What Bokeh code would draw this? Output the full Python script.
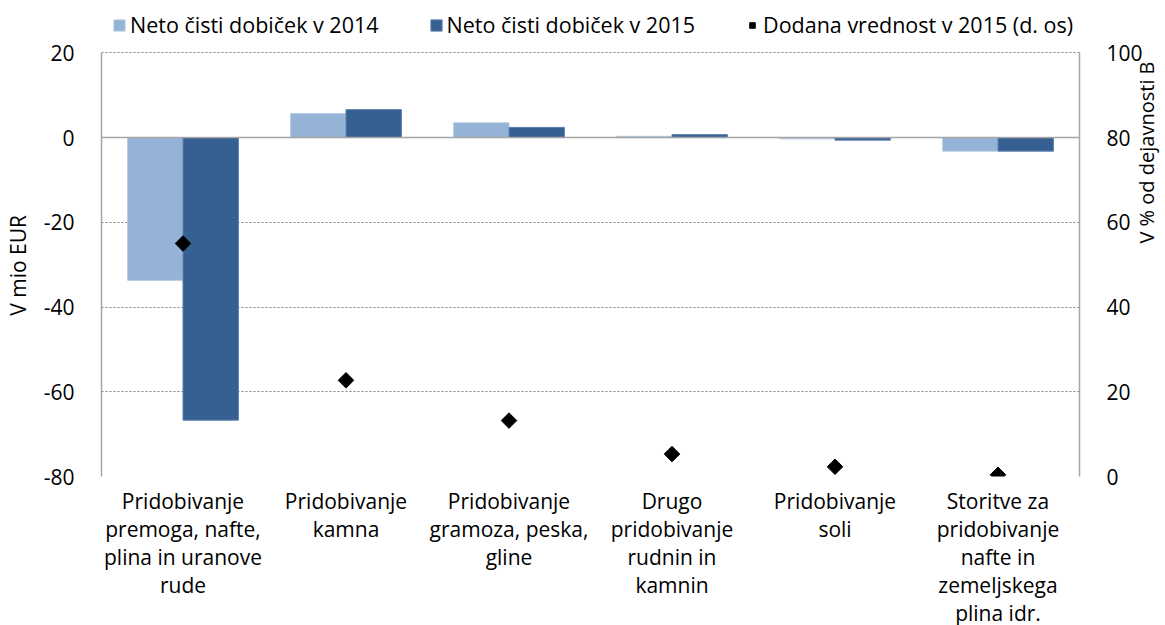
import numpy as np
from bokeh.plotting import figure
from bokeh.models import (FactorRange, Range1d, LinearAxis, FixedTicker, Span,
                          ColumnDataSource, Legend, LegendItem)
from bokeh.transform import dodge
from bokeh.embed import file_html
from bokeh.resources import INLINE

categories = [
    "Pridobivanje\npremoga, nafte,\nplina in uranove\nrude",
    "Pridobivanje\nkamna",
    "Pridobivanje\ngramoza, peska,\ngline",
    "Drugo\npridobivanje\nrudnin in\nkamnin",
    "Pridobivanje\nsoli",
    "Storitve za\npridobivanje\nnafte in\nzemeljskega\nplina idr.",
]
profit_2014 = [-33.7, 5.7, 3.5, 0.3, -0.3, -3.2]
profit_2015 = [-66.7, 6.6, 2.4, 0.7, -0.6, -3.2]
value_added_2015 = [55.0, 22.7, 13.2, 5.3, 2.3, 0.4]
series_names = ["Neto čisti dobiček v 2014", "Neto čisti dobiček v 2015",
                "Dodana vrednost v 2015 (d. os)"]
left_title = "V mio EUR"
right_title = "V % od dejavnosti B"

left_ticks = [-80, -60, -40, -20, 0, 20]
right_ticks = [0, 20, 40, 60, 80, 100]

FONT = "Open Sans"
FS = "21px"
LIGHT = "#95B3D7"
DARK = "#376092"
LIGHT_EDGE = "#b8cce4"
DARK_EDGE = "#5a7fae"
NBSP = "\u00a0"

src = ColumnDataSource(dict(cat=categories, p14=profit_2014, p15=profit_2015, va=value_added_2015))

# frame extends above the axes' top (20 / 100) to host the legend strip
p = figure(frame_width=978, frame_height=466, x_range=FactorRange(*categories, range_padding=0),
           y_range=Range1d(-80, 30), output_backend="svg", toolbar_location=None,
           min_border_left=90, min_border_right=81, min_border_top=10, min_border_bottom=148)
p.outline_line_color = None
p.extra_y_ranges = {"right": Range1d(0, 110)}

r14 = p.vbar(x=dodge("cat", -0.17, range=p.x_range), top="p14", width=0.34, source=src,
             fill_color=LIGHT, line_color=LIGHT_EDGE, line_width=1)
r15 = p.vbar(x=dodge("cat", 0.17, range=p.x_range), top="p15", width=0.34, source=src,
             fill_color=DARK, line_color=DARK_EDGE, line_width=1)
p.add_layout(Span(location=0, dimension="width", line_color="#a6a6a6", line_width=1.5))
rva = p.scatter(x="cat", y="va", source=src, y_range_name="right", marker="square",
                angle=np.pi / 4, size=11, fill_color="black", line_color="black")

p.xgrid.grid_line_color = None
p.ygrid.ticker = FixedTicker(ticks=[t for t in left_ticks if t != 0])
p.ygrid.grid_line_color = "#7f7f7f"
p.ygrid.grid_line_dash = "2 2"
p.ygrid.grid_line_width = 1

p.yaxis.ticker = FixedTicker(ticks=left_ticks)
p.yaxis.bounds = (left_ticks[0], left_ticks[-1])
p.yaxis.major_label_overrides = {t: str(t) for t in left_ticks}
# trailing no-break spaces keep the title centred on the 20..-80 span, not the taller frame
p.yaxis.axis_label = left_title + NBSP * 8
right_axis = LinearAxis(y_range_name="right", ticker=FixedTicker(ticks=right_ticks),
                        bounds=(right_ticks[0], right_ticks[-1]),
                        axis_label=right_title)
right_axis.axis_label_orientation = np.pi / 2
p.add_layout(right_axis, "right")

for ax in [p.yaxis[0], right_axis]:
    ax.axis_line_color = "#a6a6a6"
    ax.axis_line_width = 1.5
    ax.major_tick_line_color = None
    ax.minor_tick_line_color = None
    ax.major_label_text_font = FONT
    ax.major_label_text_font_size = FS
    ax.major_label_text_color = "#000000"
    ax.axis_label_text_font = FONT
    ax.axis_label_text_font_style = "normal"
    ax.axis_label_text_color = "#000000"
p.yaxis.major_label_standoff = 21
p.yaxis.axis_label_standoff = 9
p.yaxis.axis_label_text_font_size = FS
right_axis.major_label_standoff = 21
right_axis.axis_label_standoff = 1
right_axis.axis_label_text_font_size = "20px"

p.xaxis.axis_line_color = None
p.xaxis.major_tick_line_color = None
p.xaxis.minor_tick_line_color = None
p.xaxis.major_label_text_font = FONT
p.xaxis.major_label_text_font_size = FS
p.xaxis.major_label_text_color = "#000000"
p.xaxis.major_label_text_line_height = 1.0
p.xaxis.major_label_standoff = 4

legend = Legend(items=[
    LegendItem(label=series_names[0], renderers=[r14]),
    LegendItem(label=series_names[1], renderers=[r15]),
    LegendItem(label=series_names[2], renderers=[rva]),
], orientation="horizontal", location=(11, 437))
legend.label_text_font = FONT
legend.label_text_font_size = "21.5px"
legend.label_text_color = "#000000"
legend.glyph_width = 14
legend.glyph_height = 14
legend.label_standoff = 4
legend.spacing = 50
legend.padding = 0
legend.margin = 0
legend.border_line_color = None
legend.background_fill_alpha = 0
p.add_layout(legend, "center")

open("out.html", "w").write(file_html(p, INLINE))
